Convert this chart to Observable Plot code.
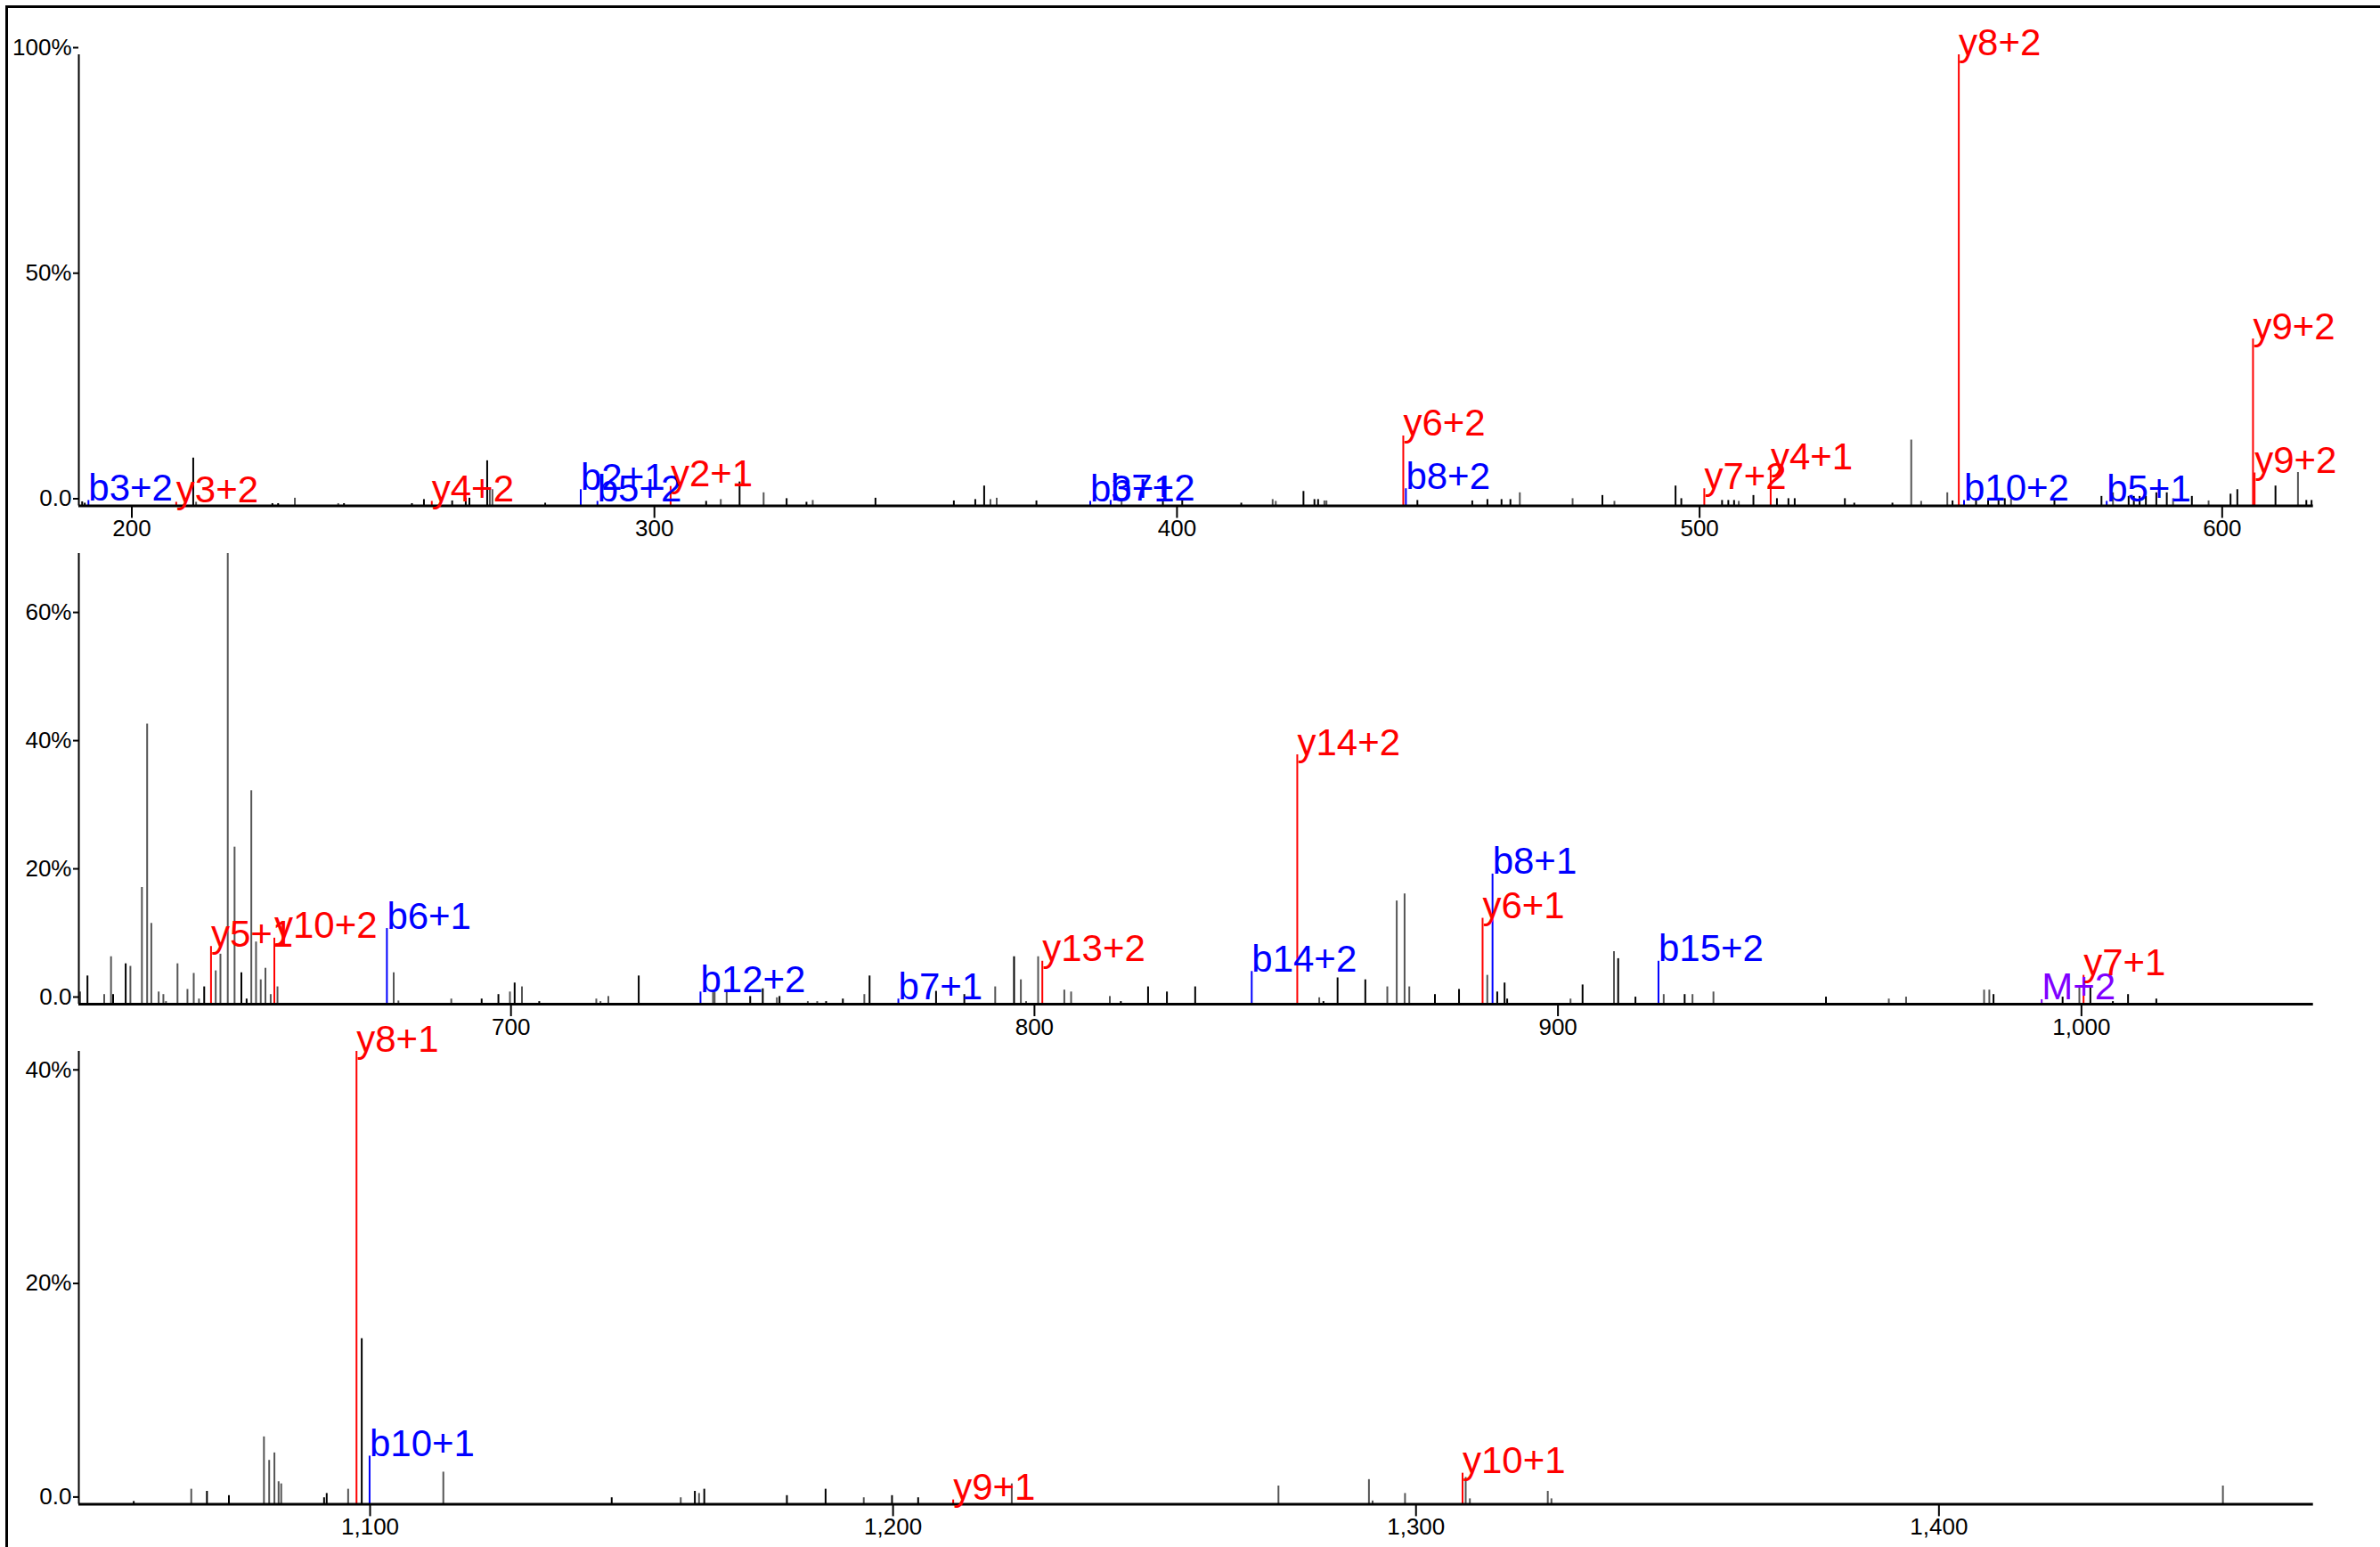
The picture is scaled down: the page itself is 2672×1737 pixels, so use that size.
<!DOCTYPE html>
<html>
<head>
<meta charset="utf-8">
<script src="https://cdn.jsdelivr.net/npm/d3@7"></script>
<script src="https://cdn.jsdelivr.net/npm/@observablehq/plot@0.6"></script>
<style>
  html, body { margin: 0; padding: 0; background: #fff; }
  #wrap { position: relative; width: 2672px; height: 1737px; overflow: hidden; background: #fff; font-family: "Liberation Sans", Arial, sans-serif; }
  #frame { position: absolute; left: 6px; top: 6px; width: 3000px; height: 3000px; border: 3px solid #000; }
  .panel { position: absolute; left: 0; }
</style>
</head>
<body>
<div id="wrap"><div id="frame"></div></div>
<script>
// ---------- DATA ----------
// m/z range shown in each of the three stacked panels
const panelStart = [189.86, 617.45, 1044.3];
const panelEnd   = [617.45, 1044.3, 1471.6];
// relative-intensity maximum (%) of each panel
const panelYMax  = [100, 70.3, 42.4];
// tick values
const xTicks = [[200, 300, 400, 500, 600], [700, 800, 900, 1000], [1100, 1200, 1300, 1400]];
const yTicks = [[0, 50, 100], [0, 20, 40, 60], [0, 20, 40]];

// annotated fragment ions
const ionLabel     = ["b3+2","y3+2","y4+2","b2+1","b5+2","y2+1","b3+1","b7+2","y6+2","b8+2","y7+2","y4+1","y8+2","b10+2","b5+1","y9+2","y9+2",
                      "y5+1","y10+2","b6+1","b12+2","b7+1","y13+2","b14+2","y14+2","y6+1","b8+1","b15+2","M+2","y7+1",
                      "y8+1","b10+1","y9+1","y10+1"];
const ionMz        = [191.7, 208.5, 257.4, 285.9, 289.1, 303.1, 383.4, 387.3, 443.3, 443.8, 500.9, 513.6, 549.6, 550.6, 577.9, 605.9, 606.2,
                      642.7, 654.8, 676.3, 736.2, 774.0, 801.5, 841.5, 850.2, 885.6, 887.5, 919.2, 992.4, 1000.4,
                      1097.4, 1099.9, 1211.5, 1308.9];
const ionIntensity = [1.2, 0.8, 1.0, 3.6, 1.0, 4.3, 1.0, 1.2, 15.5, 3.8, 3.8, 8.0, 100, 1.2, 1.0, 37.0, 7.3,
                      9.0, 10.3, 11.8, 1.9, 0.8, 6.7, 5.1, 38.9, 13.4, 20.3, 6.7, 0.7, 4.5,
                      42.4, 4.5, 0.4, 2.9];
const ionSeries    = ["b","y","y","b","b","y","b","b","y","b","y","y","y","b","b","y","y",
                      "y","y","b","b","b","y","b","y","y","b","b","M","y",
                      "y","b","y","y"];

// unannotated peaks (k = black, g = grey)
const peakMz = [
  190.5,191.0,211.75,212.3,226.9,228.0,231.2,239.5,240.6,253.6,255.9,261.3,263.9,264.6,268.0,268.5,269.0,279.1,309.9,312.7,
  316.3,320.9,325.3,329.1,330.3,342.3,357.3,361.4,363.1,364.3,365.5,373.1,389.4,397.3,401.0,412.3,418.3,418.9,424.2,426.3,
  427.0,428.2,428.6,446.0,456.5,459.4,462.1,463.8,465.6,475.7,481.4,483.7,495.4,496.5,504.3,505.5,506.6,507.5,510.3,514.8,
  517.0,518.2,527.8,529.6,536.9,540.5,542.4,547.4,548.4,552.9,555.2,557.2,558.4,559.6,567.9,576.9,579.1,582.1,583.1,584.2,
  585.4,587.4,589.4,590.6,594.2,597.4,601.6,602.9,610.2,614.5,616.1,617.1,
  617.7,619.1,622.3,623.6,624.0,626.4,627.3,629.5,630.5,631.3,632.7,633.6,634.1,636.3,638.2,639.4,640.4,641.4,643.6,644.5,
  645.9,647.2,648.5,649.5,650.4,651.3,652.2,653.1,654.1,655.4,677.6,678.5,688.6,694.4,697.6,699.8,700.7,702.1,705.4,716.3,
  717.1,718.6,724.4,738.6,738.9,741.2,745.7,748.1,750.8,751.3,756.7,758.5,760.2,763.4,767.5,768.5,781.2,786.6,792.5,796.1,
  797.4,798.4,800.7,805.7,807.0,814.4,816.5,821.7,825.3,830.7,854.4,855.2,857.9,863.2,867.4,869.2,870.7,871.6,876.5,881.1,
  886.5,888.4,889.8,890.3,902.4,904.7,910.7,911.5,914.8,920.2,924.2,925.7,929.7,951.2,963.2,966.5,981.4,982.4,983.2,996.4,
  999.6,1001.7,1006.0,1008.9,1014.3,
  1054.8,1065.8,1068.8,1073.0,1079.7,1080.7,1081.7,1082.5,1083.0,1091.2,1091.7,1095.8,1098.4,1114.0,1146.2,1159.4,1162.1,1162.9,1163.9,1179.7,
  1187.1,1194.4,1199.8,1204.8,1222.7,1273.7,1291.0,1291.7,1297.9,1309.5,1310.3,1325.2,1325.9,1454.3
];
const peakIntensity = [
  0.9,0.6,10.6,0.8,0.5,0.5,1.7,0.5,0.5,0.5,1.4,1.1,1.7,1.7,10.0,3.6,3.6,0.6,1.0,1.4,
  5.3,2.9,1.6,0.8,1.2,1.7,1.1,1.4,4.4,1.4,1.7,1.1,1.4,1.0,1.4,0.6,1.4,1.0,3.2,1.4,
  1.4,1.1,1.1,1.2,1.1,1.4,1.4,1.4,2.9,1.6,2.3,1.0,4.4,1.6,1.2,1.2,1.2,1.0,2.3,1.6,
  1.6,1.6,1.6,0.6,0.6,14.6,1.0,2.9,1.1,1.6,1.6,1.6,1.6,1.6,1.4,2.1,2.9,2.1,2.1,2.1,
  2.1,2.9,2.9,1.6,2.1,1.1,2.6,3.6,4.4,7.4,1.2,1.2,
  1.9,4.4,1.5,7.4,1.5,6.3,5.9,18.2,43.7,12.6,1.9,1.5,0.4,6.3,2.3,4.8,0.8,2.7,5.2,7.8,
  70.3,24.5,4.9,0.8,33.3,9.7,3.8,5.6,1.5,2.7,4.9,0.5,0.8,0.8,1.5,1.9,3.3,2.7,0.4,0.8,
  0.4,1.2,4.4,1.8,1.8,1.9,1.2,2.4,1.0,1.2,0.4,0.4,0.4,0.8,1.5,4.4,2.0,1.5,2.7,7.4,
  3.8,0.4,7.4,2.2,1.9,1.2,0.4,2.7,1.9,2.7,1.0,0.4,4.1,3.8,2.7,16.1,17.2,2.7,1.5,2.3,
  4.5,1.9,3.3,0.8,0.8,3.0,8.2,7.1,1.1,1.5,1.5,1.5,1.9,1.1,0.8,1.1,2.2,2.2,1.5,1.1,
  2.8,2.7,0.4,1.5,0.8,
  0.25,1.4,1.2,0.8,6.3,4.1,4.8,2.1,1.9,0.6,1.0,1.4,15.5,3.0,0.6,0.6,1.2,1.0,1.4,0.8,
  1.4,0.6,0.8,0.6,1.9,1.7,2.3,0.3,1.0,2.5,0.5,1.2,0.5,1.7
];
const peakShade = (
  "kkkgkkggkkkkkkkggkkg" +
  "kgkkgkkkkggkgkkkggkk" +
  "kggkkkkkggkgkkkkkgkk" +
  "kkkkkgggkkkkkgkkgkkk" +
  "kkkgkgkkkgkk" +
  "gkggkkgggggggggggkgg" +
  "ggkkgggggggggkkgkgkg" +
  "ggkgggkkgkggkkgkkkgk" +
  "ggggggkkkkgkkkggggkk" +
  "gkkkgkgkkgkggkggggk" + "k" +
  "gkkkk" +
  "kgkkgggggkkgkgkgkgkk" +
  "kgkkgggggggggg"
).split("");

// ---------- BUILD ----------
const shadeColor = {k: "#000000", g: "#555555"};
const ionColor = {y: "#ff0000", b: "#0000ff", M: "#8000ff"};

const peaks = peakMz.map((mz, i) => ({mz, intensity: peakIntensity[i], color: shadeColor[peakShade[i]] || "#555555"}));
const ions = ionMz.map((mz, i) => ({mz, intensity: ionIntensity[i], label: ionLabel[i], color: ionColor[ionSeries[i]]}));

// layout (pixels)
const W = 2672;
const svgTop = [0, 560, 1119];
const svgHeight = 620;
const marginTop = 61;
const marginBottom = [52.5, 53, 50.6];

const wrap = document.getElementById("wrap");
const pctFormat = d => d === 0 ? "0.0" : d + "%";

for (let i = 0; i < 3; i++) {
  const lo = panelStart[i], hi = panelEnd[i];
  const pk = peaks.filter(d => d.mz >= lo && d.mz < hi);
  const io = ions.filter(d => d.mz >= lo && d.mz < hi);
  const svg = Plot.plot({
    width: W,
    height: svgHeight,
    marginLeft: 88,
    marginRight: 75.3,
    marginTop: marginTop,
    marginBottom: marginBottom[i],
    style: {background: "transparent", overflow: "visible", fontFamily: "'Liberation Sans', Arial, sans-serif", fontSize: "26px"},
    x: {domain: [lo, hi]},
    y: {domain: [0, panelYMax[i]]},
    color: {type: "identity"},
    marks: [
      Plot.ruleX(pk, {x: "mz", y1: 0, y2: "intensity", stroke: "color", strokeWidth: 2}),
      Plot.ruleX(io, {x: "mz", y1: 0, y2: "intensity", stroke: "color", strokeWidth: 2}),
      Plot.ruleY([0], {stroke: "#000", strokeWidth: 3}),
      Plot.ruleX([lo], {y1: 0, y2: panelYMax[i], stroke: "#000", strokeWidth: 2}),
      Plot.axisX({ticks: xTicks[i], tickFormat: d3.format(","), tickSize: 14, tickPadding: 2, fontSize: 26, strokeWidth: 2, label: null}),
      Plot.axisY({ticks: yTicks[i], tickFormat: pctFormat, tickSize: 6, tickPadding: 2, fontSize: 26, strokeWidth: 2, dy: -8, label: null}),
      Plot.text(io, {x: "mz", y: "intensity", text: "label", fill: "color", textAnchor: "start", lineAnchor: "bottom", fontSize: 42, dx: 0})
    ]
  });
  svg.classList.add("panel");
  svg.style.top = svgTop[i] + "px";
  wrap.appendChild(svg);
}
</script>
</body>
</html>
